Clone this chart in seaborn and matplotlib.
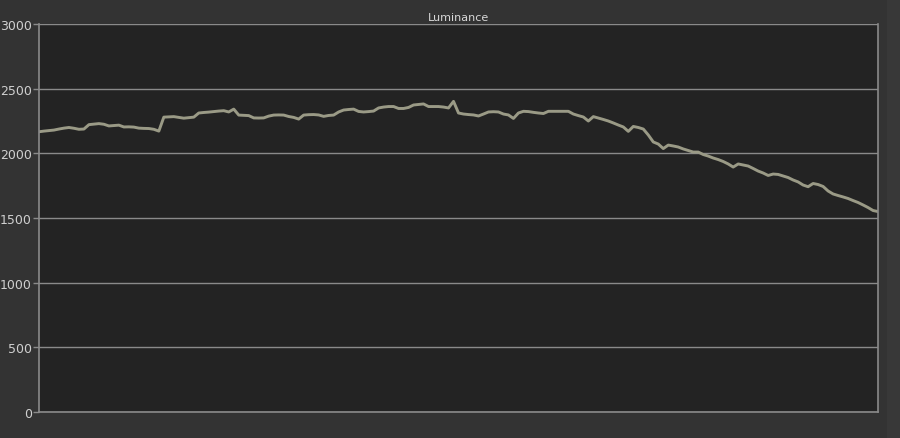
import matplotlib
matplotlib.use('Agg')
import matplotlib.pyplot as plt
import seaborn as sns
import pandas as pd
from matplotlib.patches import Rectangle

# Luminance readings, one per sample step
luminance = [
    2167, 2172, 2176, 2180, 2188, 2195, 2200, 2194, 2186, 2188,
    2222, 2226, 2230, 2225, 2212, 2215, 2218, 2204, 2205, 2203,
    2195, 2193, 2192, 2186, 2172, 2280, 2282, 2284, 2278, 2272,
    2276, 2280, 2312, 2316, 2319, 2323, 2327, 2330, 2320, 2342,
    2296, 2294, 2292, 2274, 2273, 2274, 2288, 2296, 2297, 2296,
    2285, 2278, 2265, 2296, 2299, 2300, 2297, 2286, 2293, 2296,
    2320, 2335, 2339, 2342, 2324, 2320, 2323, 2327, 2351, 2358,
    2362, 2362, 2347, 2347, 2355, 2374, 2378, 2382, 2362, 2362,
    2362, 2358, 2351, 2402, 2312, 2304, 2300, 2297, 2289, 2304,
    2320, 2322, 2320, 2304, 2297, 2270, 2312, 2325, 2323, 2317,
    2312, 2308, 2325, 2325, 2325, 2325, 2325, 2304, 2292, 2281,
    2250, 2284, 2273, 2262, 2250, 2235, 2219, 2204, 2170, 2208,
    2200, 2188, 2142, 2088, 2072, 2037, 2064, 2057, 2049, 2034,
    2022, 2010, 2010, 1991, 1979, 1964, 1952, 1937, 1918, 1894,
    1918, 1910, 1902, 1883, 1863, 1848, 1829, 1840, 1837, 1825,
    1813, 1794, 1779, 1755, 1742, 1767, 1759, 1744, 1709, 1686,
    1674, 1663, 1651, 1635, 1620, 1601, 1581, 1558, 1550,
]
y_ticks = [0, 500, 1000, 1500, 2000, 2500, 3000]

df = pd.DataFrame({'step': range(len(luminance)), 'Luminance': luminance})

sns.set_style('dark')
plt.rcParams['font.family'] = ['DejaVu Sans']

fig = plt.figure(figsize=(9, 4.39), dpi=100, facecolor='#333333')
# slightly lighter strip on the right edge of the screenshot
fig.patches.append(Rectangle((0.986, 0), 0.014, 1, transform=fig.transFigure,
                             facecolor='#383838', edgecolor='none', zorder=-1))
ax = fig.add_axes([0.0433, 0.0592, 0.9323, 0.8838])
ax.set_facecolor('#232323')

sns.lineplot(data=df, x='step', y='Luminance', ax=ax, color='#9a9a86', linewidth=2.1)

ax.set_xlim(0, len(luminance) - 1)
ax.set_ylim(0, 3000)
ax.set_yticks(y_ticks)
ax.set_xticks([])
ax.yaxis.grid(True, color='#8a8a8a', linewidth=1)
ax.xaxis.grid(False)
ax.set_xlabel('')
ax.set_ylabel('')
ax.tick_params(axis='y', colors='#8a8a8a', labelcolor='#d0d0d0', length=4,
               width=1, labelsize=9, pad=1, left=True)
for side in ['left', 'bottom', 'right']:
    ax.spines[side].set_visible(True)
    ax.spines[side].set_color('#8a8a8a')
    ax.spines[side].set_linewidth(1.2)
ax.spines['top'].set_visible(False)
ax.set_title('Luminance', color='#d8d8d8', fontsize=8, pad=3)

fig.savefig('out.png', dpi=100, facecolor=fig.get_facecolor())
